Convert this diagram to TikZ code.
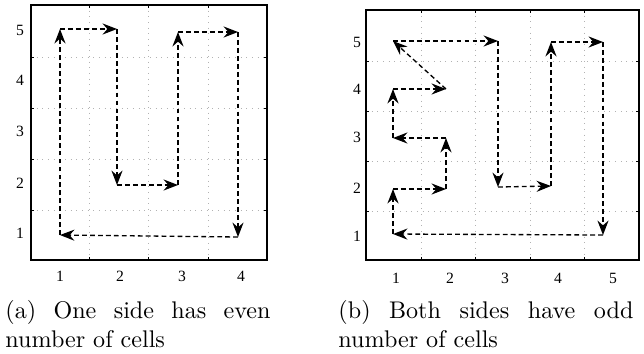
\documentclass[tikz,border=0pt]{standalone}
\usepackage{fontspec}
\newfontfamily\tickfont{Liberation Serif}
\usetikzlibrary{arrows.meta}
\begin{document}
\begin{tikzpicture}[x=0.415pt,y=-0.415pt,
  gridline/.style={gray!60,line width=0.35pt,dotted},
  frame/.style={black,line width=0.5pt},
  tickmark/.style={black,line width=0.4pt},
  route/.style={black,line width=0.55pt,dash pattern=on 2pt off 1.3pt,
    -{Stealth[length=6pt,width=4.6pt,inset=2pt]}},
  ticklabel/.style={font=\tickfont\fontsize{6.5}{7}\selectfont,inner sep=0pt},
  caption/.style={font=\fontsize{10}{12}\selectfont,inner sep=0pt,anchor=base west}]
\useasboundingbox (0,0) rectangle (644,353);

% ---------- panel (a) ----------
\foreach \gx in {89,148,208} {
  \draw[gridline] (\gx,5) -- (\gx,260);
  \draw[tickmark] (\gx,260) -- (\gx,257);
  \draw[tickmark] (\gx,5) -- (\gx,8);
}
\foreach \gy in {57,108,159,210} {
  \draw[gridline] (31,\gy) -- (267,\gy);
  \draw[tickmark] (31,\gy) -- (34,\gy);
  \draw[tickmark] (267,\gy) -- (264,\gy);
}
\draw[frame] (31,5) rectangle (267,260);
\node[ticklabel] (ax1) at (60,276) {1};
\node[ticklabel] (ax2) at (120,276) {2};
\node[ticklabel] (ax3) at (182,276) {3};
\node[ticklabel] (ax4) at (241,276) {4};
\node[ticklabel] (ay5) at (20,30) {5};
\node[ticklabel] (ay4) at (20,80) {4};
\node[ticklabel] (ay3) at (20,131) {3};
\node[ticklabel] (ay2) at (20,183) {2};
\node[ticklabel] (ay1) at (20,233) {1};

\coordinate (A1) at (60,235);
\coordinate (A2) at (60,29);
\coordinate (A3) at (117,29);
\coordinate (A4) at (117,185);
\coordinate (A5) at (178,185);
\coordinate (A6) at (178,32);
\coordinate (A7) at (238,32);
\coordinate (A8) at (238,237);
\draw[route] (A1) -- (A2);
\draw[route] (A2) -- (A3);
\draw[route] (A3) -- (A4);
\draw[route] (A4) -- (A5);
\draw[route] (A5) -- (A6);
\draw[route] (A6) -- (A7);
\draw[route] (A7) -- (A8);
\draw[route] (A8) -- (A1);

\node[caption] (capa1) at (5,318) {\hbox to 110pt{(a)\hfill One\hfill side\hfill has\hfill even}};
\node[caption] (capa2) at (5,347) {number of cells};

% ---------- panel (b) ----------
\foreach \gx in {421,475,530,584} {
  \draw[gridline] (\gx,10) -- (\gx,260);
  \draw[tickmark] (\gx,260) -- (\gx,257);
  \draw[tickmark] (\gx,10) -- (\gx,13);
}
\foreach \gy in {61,111,161,211} {
  \draw[gridline] (366,\gy) -- (639,\gy);
  \draw[tickmark] (366,\gy) -- (369,\gy);
  \draw[tickmark] (639,\gy) -- (636,\gy);
}
\draw[frame] (366,10) rectangle (639,260);
\node[ticklabel] (bx1) at (396,278) {1};
\node[ticklabel] (bx2) at (450,278) {2};
\node[ticklabel] (bx3) at (505,278) {3};
\node[ticklabel] (bx4) at (558,278) {4};
\node[ticklabel] (bx5) at (613,278) {5};
\node[ticklabel] (by5) at (357,42) {5};
\node[ticklabel] (by4) at (357,89) {4};
\node[ticklabel] (by3) at (357,137) {3};
\node[ticklabel] (by2) at (357,188) {2};
\node[ticklabel] (by1) at (357,236) {1};

\coordinate (B1) at (393,234);
\coordinate (B2) at (393,189);
\coordinate (B3) at (446,189);
\coordinate (B4) at (446,138);
\coordinate (B5) at (393,138);
\coordinate (B6) at (393,89);
\coordinate (B7) at (446,89);
\coordinate (B8) at (393,41);
\coordinate (B9) at (498,41);
\coordinate (B10) at (498,187);
\coordinate (B11) at (551,186);
\coordinate (B12) at (551,42);
\coordinate (B13) at (603,42);
\coordinate (B14) at (603,235);
\draw[route] (B1) -- (B2);
\draw[route] (B2) -- (B3);
\draw[route] (B3) -- (B4);
\draw[route] (B4) -- (B5);
\draw[route] (B5) -- (B6);
\draw[route] (B6) -- (B7);
\draw[route] (B7) -- (B8);
\draw[route] (B8) -- (B9);
\draw[route] (B9) -- (B10);
\draw[route] (B10) -- (B11);
\draw[route] (B11) -- (B12);
\draw[route] (B12) -- (B13);
\draw[route] (B13) -- (B14);
\draw[route] (B14) -- (B1);

\node[caption] (capb1) at (338,318) {\hbox to 122.4pt{(b)\hfill Both\hfill sides\hfill have\hfill odd}};
\node[caption] (capb2) at (338,347) {number of cells};
\end{tikzpicture}
\end{document}
